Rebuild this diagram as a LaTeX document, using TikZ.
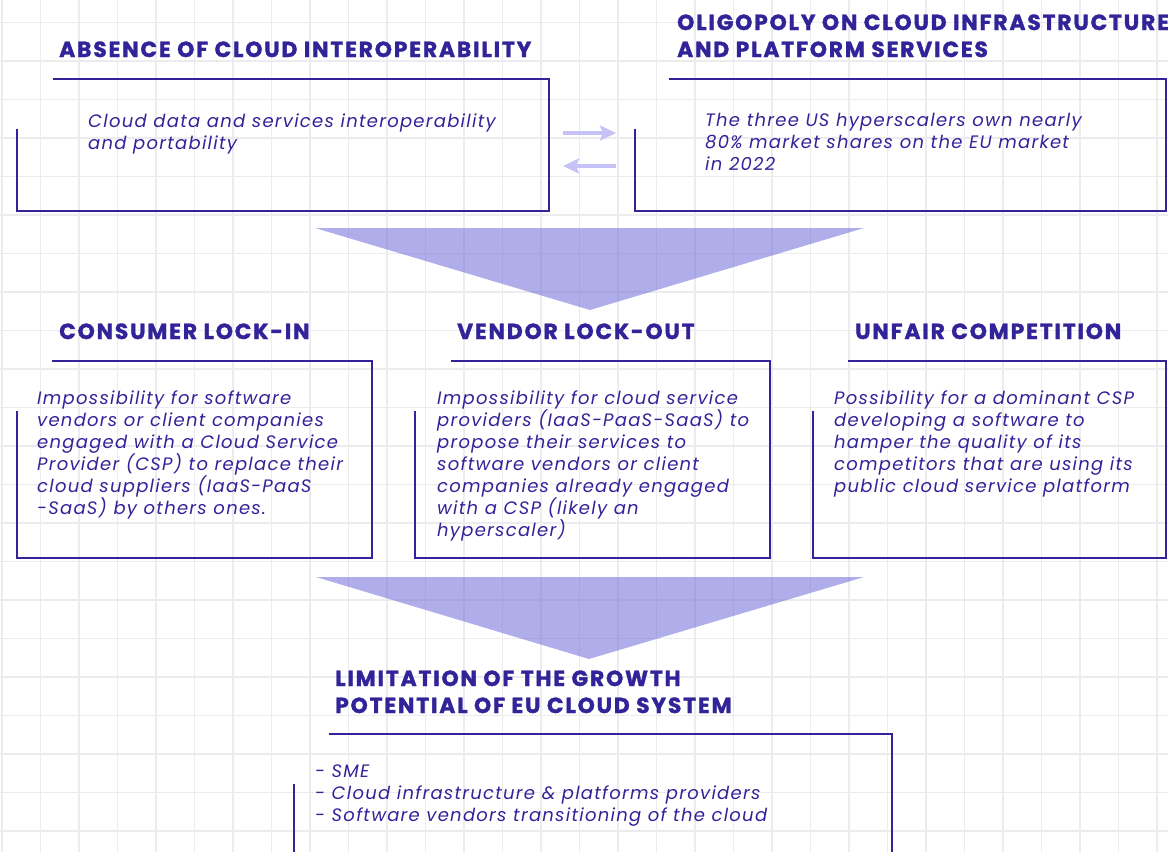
\documentclass[tikz,border=0pt]{standalone}
\usepackage{fontspec}
\setmainfont{Poppins}
\newfontfamily\headfont{Poppins}[LetterSpace=8.5, BoldFeatures={FakeBold=1.5}]
\newfontfamily\bodyfont{Poppins}[LetterSpace=7]
\usepackage{tikz}
\usetikzlibrary{arrows.meta}

\definecolor{inkblue}{RGB}{50,35,152}
\definecolor{gridgray}{RGB}{236,236,238}
\definecolor{funnel}{RGB}{98,94,214}
\definecolor{swapcol}{RGB}{198,193,246}

% nodes are placed by the baseline of their last line
\tikzset{
  heading/.style={anchor=base west, inner sep=0pt, align=left, text=inkblue,
    font=\headfont\fontsize{21.8}{27}\selectfont\bfseries},
  bodytext/.style={anchor=base west, inner sep=0pt, align=left, text=inkblue,
    font=\bodyfont\fontsize{18}{22}\selectfont\itshape},
  frame/.style={draw=inkblue, line width=2.4pt},
  swaparrow/.style={draw=swapcol, line width=4.5pt, -{Stealth[length=16pt,width=15pt,inset=3pt]}}
}

\begin{document}
\begin{tikzpicture}[x=1pt,y=-1pt]
\useasboundingbox (0,0) rectangle (1168,852);

% Grid
\foreach \i in {0,...,30} {
    \draw[gridgray, line width=1.2pt] (2+38.5*\i,0) -- (2+38.5*\i,852);
}
\foreach \j in {0,...,21} {
    \draw[gridgray, line width=1.2pt] (0,22.5+38.5*\j) -- (1168,22.5+38.5*\j);
}

% Frames (left line starts 50 below the top)
\foreach \xl/\xt/\xr/\yt/\yb in {17/53/549/79/211, 635/669/1166/79/211,
    17/52/372/361/558, 415/451/770/361/558, 813/848/1166/361/558} {
    \draw[frame] (\xt,\yt) -- (\xr,\yt) -- (\xr,\yb) -- (\xl,\yb) -- (\xl,\yt+50);
}
\draw[frame] (329,734) -- (892,734) -- (892,852);
\draw[frame] (294,784) -- (294,852);

% Funnels
\fill[funnel, fill opacity=0.5] (315,228) -- (864,228) -- (590,310) -- cycle;
\fill[funnel, fill opacity=0.5] (316,577) -- (864,577) -- (589,659) -- cycle;

% Headings
\node[heading] (absence) at (59,57) {ABSENCE OF CLOUD INTEROPERABILITY};
\node[heading] (oligopoly) at (677,57) {OLIGOPOLY ON CLOUD INFRASTRUCTURE\\AND PLATFORM SERVICES};
\node[heading] (lockin) at (59,339) {CONSUMER LOCK-IN};
\node[heading] (lockout) at (457,339) {VENDOR LOCK-OUT};
\node[heading] (unfair) at (855,339) {UNFAIR COMPETITION};
\node[heading] (limit) at (335,713) {LIMITATION OF THE GROWTH\\POTENTIAL OF EU CLOUD SYSTEM};

% Texts
\node[bodytext] (interop) at (88,149) {Cloud data and services interoperability\\and portability};
\node[bodytext] (share) at (705,170) {The three US hyperscalers own nearly\\80\% market shares on the EU market\\in 2022};
\node[bodytext] (replace) at (37,514) {Impossibility for software\\vendors or client companies\\engaged with a Cloud Service\\Provider (CSP) to replace their\\cloud suppliers (IaaS-PaaS\\-SaaS) by others ones.};
\node[bodytext] (propose) at (437,536) {Impossibility for cloud service\\providers (IaaS-PaaS-SaaS) to\\propose their services to\\software vendors or client\\companies already engaged\\with a CSP (likely an\\hyperscaler)};
\node[bodytext] (hamper) at (834,492) {Possibility for a dominant CSP\\developing a software to\\hamper the quality of its\\competitors that are using its\\public cloud service platform};
\node[bodytext] (actors) at (315,821) {- SME\\- Cloud infrastructure \& platforms providers\\- Software vendors transitioning of the cloud};

% Swap arrows
\coordinate (swapA) at (563,133);
\coordinate (swapB) at (616,133);
\coordinate (swapC) at (616,166);
\coordinate (swapD) at (563,166);
\draw[swaparrow] (swapA) -- (swapB);
\draw[swaparrow] (swapC) -- (swapD);
\end{tikzpicture}
\end{document}
